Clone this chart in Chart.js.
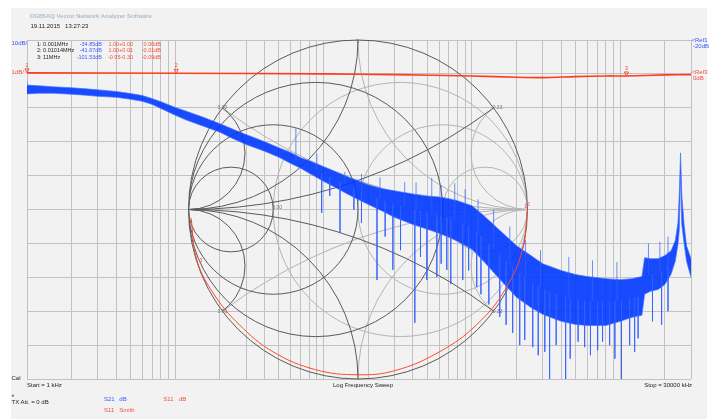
<!DOCTYPE html>
<html>
<head>
<meta charset="utf-8">
<script src="https://cdn.jsdelivr.net/npm/chart.js@4.4.1/dist/chart.umd.min.js"></script>
<style>
    body { margin: 0; background: #fff; width: 718px; height: 419px; overflow: hidden; position: relative; }
    #painel { position: absolute; left: 11px; top: 8px; width: 696px; height: 411px; background: #f2f2f2; }
    #grafico { position: absolute; left: 0; top: 0; }
    .t { position: absolute; font-family: "Liberation Sans", Arial, sans-serif; font-size: 6px; line-height: 6px; white-space: nowrap; color: #222; }
    #tabela .t { font-size: 5.5px; }
    .azul { color: #3858ff; }
    .verm { color: #f2503c; }
    .dir { text-align: right; }
</style>
</head>
<body>
<div id="painel"></div>
<canvas id="grafico" width="718" height="419"></canvas>

<div class="t" style="left:30px; top:12.5px; color:#a9bccf; font-weight:bold; font-size:5.9px">DG8SAQ Vector Network Analyzer Software</div>
<div class="t" style="left:30.5px; top:22.5px">19.11.2015&nbsp;&nbsp;&nbsp;13:27:23</div>
<div id="tabela"></div>

<div class="t azul" style="left:11.5px; top:39.8px">10dB/</div>
<div class="t verm" style="left:11.5px; top:68.8px">1dB/</div>
<div class="t azul" style="left:691.5px; top:36.5px">&lt;Ref1</div>
<div class="t azul" style="left:693px; top:42.5px">-20dB</div>
<div class="t verm" style="left:691.5px; top:68.8px">&lt;Ref3</div>
<div class="t verm" style="left:693px; top:75px">0dB</div>

<div class="t" style="left:11.5px; top:374.5px">Cal</div>
<div class="t" style="left:27px; top:382px">Start = 1 kHz</div>
<div class="t" style="left:333px; top:381.5px">Log Frequency Sweep</div>
<div class="t dir" style="left:611px; width:81px; top:381.5px">Stop = 30000 kHz</div>
<div class="t" style="left:11.5px; top:392px; font-size:5px">«</div>
<div class="t" style="left:11.5px; top:398.5px">TX Att. = 0 dB</div>
<div class="t azul" style="left:104px; top:396.3px">S21</div>
<div class="t azul" style="left:119.3px; top:396.3px">dB</div>
<div class="t verm" style="left:163.3px; top:396.3px">S11</div>
<div class="t verm" style="left:179px; top:396.3px">dB</div>
<div class="t verm" style="left:104px; top:407px">S11</div>
<div class="t verm" style="left:119.3px; top:407px">Smith</div>

<script>
// linhas verticais da grade (kHz)
const gradeFreq = [1, 2, 3, 4, 5, 6, 7, 8, 9,
    10, 20, 30, 40, 50, 60, 70, 80, 90,
    100, 200, 300, 400, 500, 600, 700, 800, 900,
    1000, 2000, 3000, 4000, 5000, 6000, 7000, 8000, 9000,
    10000, 20000, 30000]

// S21 (azul) - faixa do ruido, dB
const freqKHz = [1, 1.2, 1.5, 2, 2.5, 3, 4, 5, 6, 7,
    8, 10, 12, 15, 20, 25, 30, 40, 50, 60,
    70, 80, 100, 120, 150, 200, 250, 300, 400, 500,
    600, 700, 800, 1000, 1200, 1500, 2000, 2500, 3000, 4000,
    5000, 6000, 7000, 8000, 10000, 12000, 14000, 14600, 16000, 18000,
    20000, 22000, 23500, 24500, 25000, 25500, 26000, 27000, 28000, 30000]

const s21Topo = [-33.3, -33.5, -33.8, -34.1, -34.4, -34.7, -35.2, -35.8, -36.4, -37.3,
    -38.2, -39.9, -41.1, -42.6, -44.7, -46.5, -47.9, -50.0, -51.8, -53.2,
    -54.7, -55.6, -57.4, -58.8, -60.6, -62.7, -63.9, -64.5, -65.4, -66.0,
    -66.3, -66.8, -67.4, -68.9, -71.8, -75.7, -80.7, -83.6, -86.0, -88.0,
    -89.2, -89.8, -90.1, -90.4, -90.7, -90.4, -89.8, -84.2, -84.5, -84.5,
    -83.6, -82.2, -79.2, -73.9, -65.7, -53.3, -65.7, -74.8, -80.7, -84.5]

const s21Base = [-35.9, -35.7, -35.7, -36.0, -36.3, -36.6, -36.9, -37.5, -38.1, -39.0,
    -40.2, -42.2, -43.7, -45.2, -47.2, -49.3, -50.8, -52.8, -54.6, -56.4,
    -57.8, -59.3, -61.7, -63.5, -65.8, -68.5, -70.5, -72.3, -74.4, -75.8,
    -77.0, -78.2, -79.4, -81.7, -85.3, -90.0, -95.9, -98.9, -100.9, -103.0,
    -103.9, -104.2, -104.2, -104.2, -103.0, -101.8, -101.2, -95.0, -94.1, -93.6,
    -92.1, -89.1, -85.3, -80.3, -76.1, -59.8, -74.4, -80.3, -85.3, -90.0]

// picos isolados [kHz, dB]
const picosBaixo = [[97, -71.0], [110, -66.0], [129, -76.9], [160, -70.0], [180, -74.0],
    [229, -90.8], [260, -78.0], [293, -87.8], [330, -82.0], [412, -103.4],
    [450, -84.0], [497, -90.8], [580, -89.9], [620, -86.0], [677, -87.8],
    [720, -92.0], [867, -90.8], [950, -88.0], [1077, -92.9], [1150, -95.0],
    [1300, -98.0], [1540, -101.7], [1700, -104.0], [1882, -106.4], [2100, -110.0],
    [2270, -108.5], [2570, -110.6], [2800, -113.0], [3100, -112.0], [3340, -120],
    [3700, -110.0], [4285, -120], [4600, -114.0], [5200, -109.0], [5755, -110.6],
    [6300, -113.0], [7040, -111.5], [7600, -109.0], [8480, -110.0], [9200, -114.0],
    [10200, -120], [11570, -110.0], [12500, -112.0], [13200, -108.0], [16500, -103.0],
    [19000, -104.0], [21000, -100.0]]
const picosCima = [[1, -32.0], [65, -46.0], [90, -53.5], [139, -58.9], [180, -59.5],
    [240, -60.5], [352, -61.9], [420, -62.0], [536, -60.7], [620, -62.8],
    [766, -62.2], [900, -64.0], [1100, -67.0], [1400, -70.0], [1800, -75.0],
    [2300, -79.0], [2900, -82.0], [4500, -84.0], [6500, -85.0], [9500, -85.5],
    [15500, -80.0], [18500, -79.5], [21000, -78.0]]

// S11 em dB (vermelho)
const s11Freq = [1, 10, 100, 300, 1000, 2000, 3000, 5000, 8000, 11000, 20000, 30000]
const s11Db = [0.03, 0.02, 0.0, -0.02, -0.06, -0.10, -0.11, -0.08, -0.06, -0.06, -0.03, -0.02]

// S11 na carta de Smith (parte real / imaginaria)
const smithRe = [1.00, 0.97, 0.87, 0.70, 0.48, 0.22, 0.00, -0.25, -0.50, -0.70, -0.85, -0.95, -0.985]
const smithIm = [0.00, -0.24, -0.47, -0.68, -0.84, -0.95, -0.975, -0.945, -0.84, -0.68, -0.50, -0.30, -0.05]

// marcadores
const marcFreq = [1, 10.14, 11000]
const marcS21 = [-34.85, -41.67, -101.53]
const marcRe = [1.00, 1.00, -0.95]
const marcIm = [0.00, 0.01, -0.30]
const marcS11 = [0.00, -0.01, -0.09]

// valores da grade da carta de Smith
const gradeSmith = [1 / 3, 1, 3]

// tabela dos marcadores (texto)
var tabela = ''
for (let i = 0; i < marcFreq.length; i++) {
    var topo = 40.5 + i * 6.5
    var cplx = marcRe[i].toFixed(2) + (marcIm[i] < 0 ? '-' : '+') + Math.abs(marcIm[i]).toFixed(2)
    tabela += '<div class="t" style="left:37px; top:' + topo + 'px">' + (i + 1) + ': ' + (marcFreq[i] / 1000) + 'MHz</div>'
    tabela += '<div class="t azul dir" style="left:60px; width:42px; top:' + topo + 'px">' + marcS21[i].toFixed(2) + 'dB</div>'
    tabela += '<div class="t verm dir" style="left:100px; width:33px; top:' + topo + 'px">' + cplx + '</div>'
    tabela += '<div class="t verm dir" style="left:130px; width:31px; top:' + topo + 'px">' + marcS11[i].toFixed(2) + 'dB</div>'
}
document.getElementById('tabela').innerHTML = tabela

function interpFaixa(f) {
    // meio da faixa azul na frequencia f (interpolacao em log f)
    for (let i = 0; i < freqKHz.length - 1; i++) {
        if (f <= freqKHz[i + 1]) {
            var t = (Math.log(f) - Math.log(freqKHz[i])) / (Math.log(freqKHz[i + 1]) - Math.log(freqKHz[i]))
            var a = (s21Topo[i] + s21Base[i]) / 2
            var b = (s21Topo[i + 1] + s21Base[i + 1]) / 2
            return a + (b - a) * t
        }
    }
    return (s21Topo[freqKHz.length - 1] + s21Base[freqKHz.length - 1]) / 2
}

var dadosPicos = []
picosBaixo.concat(picosCima).forEach((p) => {
    dadosPicos.push({ x: p[0], y: interpFaixa(p[0]) })
    dadosPicos.push({ x: p[0], y: p[1] })
    dadosPicos.push({ x: p[0], y: null })
})

const cartaSmith = {
    id: 'cartaSmith',
    beforeDatasetsDraw(chart) {
        const ctx = chart.ctx
        const sx = chart.scales.sx, sy = chart.scales.sy
        const cx = sx.getPixelForValue(0), cy = sy.getPixelForValue(0)
        const kx = sx.getPixelForValue(1) - cx, ky = cy - sy.getPixelForValue(1)
        function circulo(u, v, r) {
            ctx.beginPath()
            ctx.ellipse(cx + u * kx, cy - v * ky, r * kx, r * ky, 0, 0, 2 * Math.PI)
            ctx.stroke()
        }
        ctx.save()
        ctx.beginPath()
        ctx.ellipse(cx, cy, kx, ky, 0, 0, 2 * Math.PI)
        ctx.clip()
        ctx.lineWidth = 1
        // impedancia (cinza claro)
        ctx.strokeStyle = '#b4b4b4'
        gradeSmith.forEach((r) => {
            circulo(r / (1 + r), 0, 1 / (1 + r))
            circulo(1, 1 / r, 1 / r)
            circulo(1, -1 / r, 1 / r)
        })
        // admitancia (escuro)
        ctx.strokeStyle = '#5a5a5a'
        gradeSmith.forEach((g) => {
            circulo(-g / (1 + g), 0, 1 / (1 + g))
            circulo(-1, 1 / g, 1 / g)
            circulo(-1, -1 / g, 1 / g)
        })
        ctx.restore()

        ctx.save()
        ctx.strokeStyle = '#5a5a5a'
        ctx.lineWidth = 1
        circulo(0, 0, 1)
        ctx.font = '5px "Liberation Sans", Arial, sans-serif'
        ctx.fillStyle = '#777'
        ctx.textAlign = 'center'
        ctx.textBaseline = 'middle'
        ctx.fillText('1', cx, cy - ky + 2)
        ctx.fillText('1', cx, cy + ky - 4)
        var x3 = 3
        var re3 = (x3 * x3 - 1) / (x3 * x3 + 1), im3 = 2 * x3 / (x3 * x3 + 1)
        ctx.fillText('0.33', cx + re3 * kx + 4, cy - im3 * ky)
        ctx.fillText('0.33', cx + re3 * kx + 4, cy + im3 * ky)
        ctx.fillText('3.00', cx - re3 * kx, cy - im3 * ky)
        ctx.fillText('3.00', cx - re3 * kx, cy + im3 * ky)
        ctx.fillText('3.00', cx - (3 / 4 - 1 / 4) * kx + 4, cy - 2)
        ctx.restore()
    },
    afterDatasetsDraw(chart) {
        const ctx = chart.ctx
        const x = chart.scales.x, y2 = chart.scales.y2
        const sx = chart.scales.sx, sy = chart.scales.sy
        ctx.save()
        ctx.fillStyle = '#f2503c'
        ctx.strokeStyle = '#f2503c'
        ctx.font = '6px "Liberation Sans", Arial, sans-serif'
        ctx.textAlign = 'center'
        ctx.textBaseline = 'middle'
        for (let i = 0; i < marcFreq.length; i++) {
            var px = x.getPixelForValue(marcFreq[i])
            var py = y2.getPixelForValue(marcS11[i]) - 1
            ctx.beginPath()
            ctx.moveTo(px - 2, py - 4)
            ctx.lineTo(px + 2, py - 4)
            ctx.lineTo(px, py)
            ctx.closePath()
            ctx.stroke()
            ctx.fillText(String(i + 1), px, py - 8)
        }
        // marcadores na carta de Smith
        ctx.font = '5px "Liberation Sans", Arial, sans-serif'
        ctx.fillText('1', sx.getPixelForValue(marcRe[0]) - 2, sy.getPixelForValue(marcIm[0]) - 3)
        ctx.fillText('2', sx.getPixelForValue(marcRe[1]) + 1, sy.getPixelForValue(marcIm[1]) - 3)
        ctx.fillText('3', sx.getPixelForValue(marcRe[2]) + 4, sy.getPixelForValue(marcIm[2]))
        ctx.restore()
    }
}

const estiloGrade = { color: '#c2c2c2', lineWidth: 1, drawTicks: false }

new Chart(document.getElementById('grafico'), {
    type: 'line',
    data: {
        datasets: [
            {
                label: 'S11 dB',
                data: s11Freq.map((f, i) => ({ x: f, y: s11Db[i] })),
                xAxisID: 'x', yAxisID: 'y2',
                borderColor: '#ff3c1e', borderWidth: 1.6, pointRadius: 0, tension: 0.3
            },
            {
                label: 'S11 Smith',
                data: smithRe.map((r, i) => ({ x: r, y: smithIm[i] })),
                xAxisID: 'sx', yAxisID: 'sy',
                borderColor: '#ff4a30', borderWidth: 1, pointRadius: 0, tension: 0.4
            },
            {
                label: 'picos',
                data: dadosPicos,
                xAxisID: 'x', yAxisID: 'y',
                borderColor: 'rgba(50, 95, 255, 0.7)', borderWidth: 1, pointRadius: 0, spanGaps: false
            },
            {
                label: 'S21 topo',
                data: freqKHz.map((f, i) => ({ x: f, y: s21Topo[i] })),
                xAxisID: 'x', yAxisID: 'y',
                borderColor: 'rgba(70, 115, 255, 0.7)', borderWidth: 1, pointRadius: 0
            },
            {
                label: 'S21 base',
                data: freqKHz.map((f, i) => ({ x: f, y: s21Base[i] })),
                xAxisID: 'x', yAxisID: 'y',
                borderColor: 'rgba(70, 115, 255, 0.7)', borderWidth: 1, pointRadius: 0,
                fill: '-1', backgroundColor: 'rgba(0, 55, 255, 0.9)'
            }
        ]
    },
    options: {
        responsive: false,
        animation: false,
        devicePixelRatio: 1,
        layout: { padding: { left: 27, top: 40, right: 27, bottom: 40 } },
        plugins: { legend: { display: false }, tooltip: { enabled: false } },
        scales: {
            x: {
                type: 'logarithmic', min: 1, max: 30000,
                afterBuildTicks: (escala) => { escala.ticks = gradeFreq.map((v) => ({ value: v })) },
                ticks: { display: false },
                grid: estiloGrade,
                border: { display: false }
            },
            y: {
                type: 'linear', min: -120, max: -20,
                ticks: { display: false, stepSize: 10 },
                grid: estiloGrade,
                border: { display: false }
            },
            y2: { type: 'linear', axis: 'y', display: false, min: -9, max: 1 },
            sx: { type: 'linear', axis: 'x', display: false, min: -1.953, max: 1.965 },
            sy: { type: 'linear', axis: 'y', display: false, min: -1, max: 1 }
        }
    },
    plugins: [cartaSmith]
});
</script>
</body>
</html>
